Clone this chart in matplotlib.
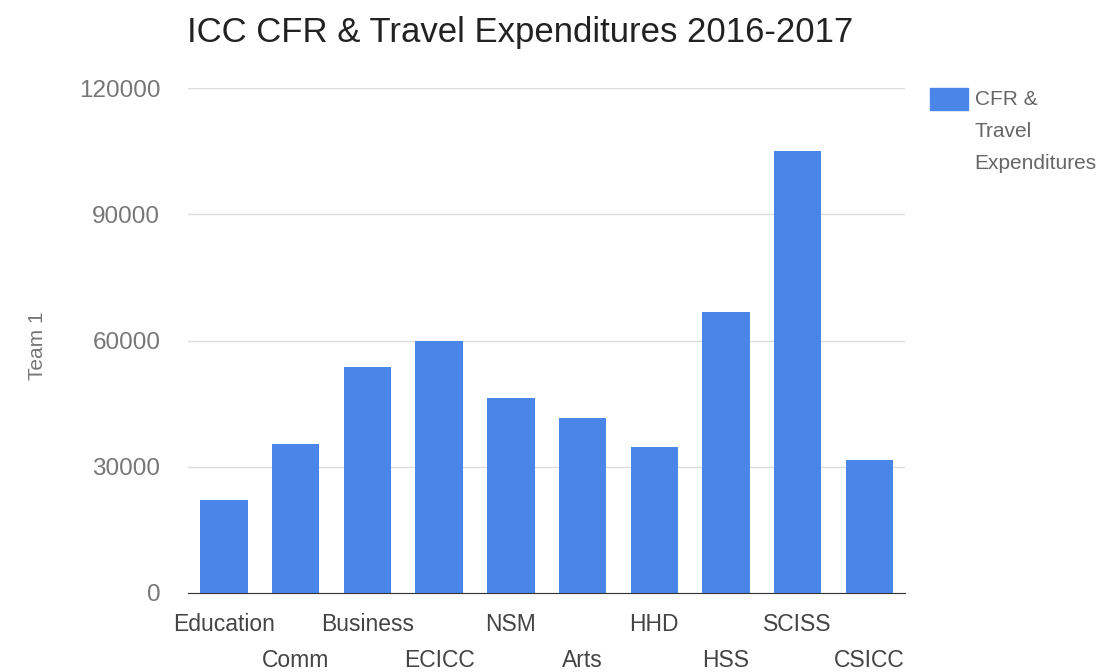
import matplotlib.pyplot as plt
from matplotlib.patches import Rectangle

categories = ['Education', 'Comm', 'Business', 'ECICC', 'NSM',
              'Arts', 'HHD', 'HSS', 'SCISS', 'CSICC']
values = [22200, 35500, 53800, 59800, 46400, 41700, 34800, 66900, 105100, 31700]
yticks = [0, 30000, 60000, 90000, 120000]
series_name = 'CFR &\nTravel\nExpenditures'
bar_color = '#4a86e8'

plt.rcParams['font.family'] = ['Liberation Sans', 'DejaVu Sans']

fig = plt.figure(figsize=(11, 6.72), dpi=100)
ax = fig.add_axes([0.171, 0.1176, 0.652, 0.751])

x = list(range(len(categories)))
ax.bar(x, values, width=0.66, color=bar_color, zorder=2)

ax.set_xlim(-0.5, len(categories) - 0.5)
ax.set_ylim(0, 120000)
ax.set_yticks(yticks)
ax.set_yticklabels([str(t) for t in yticks], color='#777777', fontsize=17.5)
ax.tick_params(axis='y', length=0, pad=20)
ax.grid(axis='y', color='#dddddd', linewidth=1, zorder=0)

# staggered category labels, two rows
ax.set_xticks(x)
ax.set_xticklabels([])
ax.tick_params(axis='x', length=0)
for i, name in enumerate(categories):
    off = -0.063 if i % 2 == 0 else -0.133
    ax.text(i, off, name, transform=ax.get_xaxis_transform(),
            ha='center', va='center', fontsize=16.5, color='#444444')

for s in ['top', 'right', 'left']:
    ax.spines[s].set_visible(False)
ax.spines['bottom'].set_color('#333333')
ax.spines['bottom'].set_zorder(3)

ax.set_ylabel('Team 1', color='#777777', fontsize=15)
ax.yaxis.set_label_coords(-0.197, 0.49)

fig.text(0.473, 0.952, 'ICC CFR & Travel Expenditures 2016-2017',
         ha='center', va='center', fontsize=25, color='#222222')

# legend, drawn by hand so the swatch sits by the first line
fig.patches.append(Rectangle((0.8455, 0.8363), 0.0345, 0.0327,
                             transform=fig.transFigure, color=bar_color))
fig.text(0.886, 0.866, series_name, ha='left', va='top', fontsize=15,
         color='#666666', linespacing=1.87)

fig.savefig('out.png', dpi=100)
